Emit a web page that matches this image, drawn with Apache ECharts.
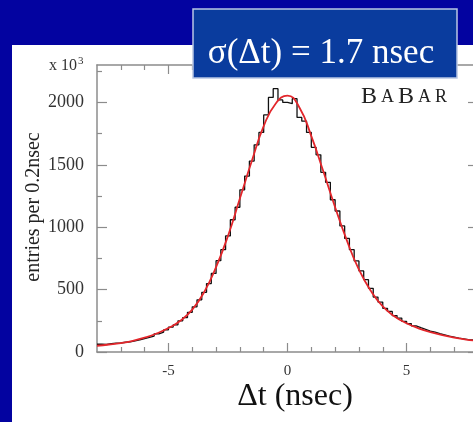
<!DOCTYPE html>
<html>
<head>
<meta charset="utf-8">
<script src="https://cdn.jsdelivr.net/npm/echarts@6.0.0/dist/echarts.min.js"></script>
<style>
  html, body { margin: 0; padding: 0; background: #0303a0; }
  #chart { width: 473px; height: 422px; }
</style>
</head>
<body>
<div id="chart"></div>
<script>
// histogram: 0.2 nsec bins from -8 to 8
const binStart = -8
const binWidth = 0.2
const counts = [
  62, 60, 66, 70, 72, 78, 82, 90, 98, 108,
  118, 128, 146, 160, 178, 200, 218, 250, 276, 318,
  362, 418, 478, 548, 630, 732, 820, 930, 1060, 1160,
  1300, 1410, 1530, 1660, 1760, 1900, 2040, 2110, 2020, 2000,
  1990, 2030, 1880, 1850, 1760, 1640, 1580, 1440, 1360, 1220,
  1130, 1010, 910, 820, 730, 650, 580, 510, 440, 400,
  350, 325, 292, 272, 246, 228, 210, 195, 182, 168,
  160, 148, 138, 128, 120, 112, 106, 100, 96, 90
]

// fitted curve (red)
const fitX = [-8, -7.5, -7, -6.5, -6, -5.5, -5, -4.5, -4, -3.5, -3, -2.5, -2, -1.5, -1, -0.5,
  0, 0.5, 1, 1.5, 2, 2.5, 3, 3.5, 4, 4.5, 5, 5.5, 6, 6.5, 7, 7.5, 8]
const fitY = [50, 60, 72, 90, 115, 148, 192, 250, 340, 480, 680, 930, 1230, 1530, 1810, 1990,
  2055, 1960, 1730, 1450, 1160, 890, 660, 490, 365, 285, 230, 190, 160, 135, 115, 100, 88]

const xMajor = [-5, 0, 5]
const xMinor = [-7, -6, -4, -3, -2, -1, 1, 2, 3, 4, 6, 7]
const yMajor = [0, 500, 1000, 1500, 2000]
const yMinor = [250, 750, 1250, 1750, 2250]

const serif = '"Liberation Serif", "DejaVu Serif", serif'
const axisColor = '#8c8c8c'

const histData = counts.map((v, i) => [binStart + i * binWidth, v])
histData.push([binStart + counts.length * binWidth, counts[counts.length - 1]])
const fitData = fitX.map((x, i) => [x, fitY[i]])

const gridBox = { left: 97, top: 65, width: 381, height: 287, outerBoundsMode: 'none', containLabel: false }

const xAxisOf = (gridIndex, position, ticks, len, labels) => ({
  type: 'value',
  gridIndex,
  position,
  min: -8,
  max: 8,
  axisLine: { show: gridIndex === 0, onZero: false, lineStyle: { color: axisColor, width: 1.5 } },
  axisTick: { inside: true, length: len, customValues: ticks, lineStyle: { color: axisColor, width: 1.2 } },
  axisLabel: labels
    ? { customValues: labels, formatter: (v) => String(v), color: '#333', fontFamily: serif, fontSize: 15, margin: 12 }
    : { show: false },
  splitLine: { show: false }
})

const yAxisOf = (gridIndex, position, ticks, len, labels) => ({
  type: 'value',
  gridIndex,
  position,
  min: 0,
  max: 2300,
  axisLine: { show: gridIndex === 0, onZero: false, lineStyle: { color: axisColor, width: 1.5 } },
  axisTick: { inside: true, length: len, customValues: ticks, lineStyle: { color: axisColor, width: 1.2 } },
  axisLabel: labels
    ? { customValues: labels, formatter: (v) => String(v), color: '#333', fontFamily: serif, fontSize: 18, margin: 13 }
    : { show: false },
  splitLine: { show: false }
})

const chart = echarts.init(document.getElementById('chart'))
chart.setOption({
  backgroundColor: '#0303a0',
  animation: false,
  grid: [Object.assign({}, gridBox), Object.assign({}, gridBox)],
  xAxis: [
    xAxisOf(0, 'bottom', xMinor, 5, xMajor),
    xAxisOf(0, 'top', xMinor, 5, null),
    xAxisOf(1, 'bottom', xMajor, 9, null),
    xAxisOf(1, 'top', xMajor, 9, null)
  ],
  yAxis: [
    yAxisOf(0, 'left', yMajor, 10, yMajor),
    yAxisOf(0, 'right', yMajor, 10, null),
    yAxisOf(1, 'left', yMinor, 5, null),
    yAxisOf(1, 'right', yMinor, 5, null)
  ],
  graphic: [
    {
      type: 'rect', z: -10, silent: true,
      shape: { x: 12, y: 45, width: 470, height: 380 },
      style: { fill: '#ffffff' }
    },
    {
      type: 'text', z: 10, x: 49, y: 76,
      style: {
        text: '{a|x 10}{b|3}',
        verticalAlign: 'bottom',
        rich: {
          a: { fontFamily: serif, fontSize: 16, fill: '#333' },
          b: { fontFamily: serif, fontSize: 11, fill: '#333', verticalAlign: 'top', padding: [0, 0, 9, 1] }
        }
      }
    },
    {
      type: 'text', z: 10, x: 34, y: 207, rotation: Math.PI / 2,
      style: {
        text: 'entries per 0.2nsec', align: 'center', verticalAlign: 'middle',
        fontFamily: serif, fontSize: 20, fill: '#222'
      }
    },
    {
      type: 'text', z: 10, x: 295, y: 397,
      style: {
        text: 'Δt (nsec)', align: 'center', verticalAlign: 'middle',
        fontFamily: serif, fontSize: 32, fill: '#111'
      }
    },
    {
      type: 'text', z: 10, x: 406, y: 97,
      style: {
        text: '{b|B}{s|A}{b|B}{s|A}{s|R}',
        align: 'center', verticalAlign: 'middle',
        rich: {
          b: { fontFamily: serif, fontSize: 24, fill: '#222', padding: [0, 4, 0, 0] },
          s: { fontFamily: serif, fontSize: 18, fill: '#222', padding: [0, 4, 0, 0] }
        }
      }
    },
    {
      type: 'rect', z: 20, silent: true,
      shape: { x: 193, y: 9, width: 264, height: 69 },
      style: { fill: '#0a3c9e', stroke: '#b9c6e4', lineWidth: 1.5 }
    },
    {
      type: 'text', z: 21, x: 321, y: 54,
      style: {
        text: 'σ(Δt) = 1.7 nsec', align: 'center', verticalAlign: 'middle',
        fontFamily: serif, fontSize: 35, fill: '#ffffff'
      }
    }
  ],
  series: [
    {
      name: 'data',
      type: 'line',
      xAxisIndex: 0,
      yAxisIndex: 0,
      step: 'end',
      showSymbol: false,
      data: histData,
      lineStyle: { color: '#111', width: 1.3 },
      z: 3
    },
    {
      name: 'fit',
      type: 'line',
      xAxisIndex: 0,
      yAxisIndex: 0,
      smooth: 0.5,
      showSymbol: false,
      data: fitData,
      lineStyle: { color: '#e3262b', width: 1.8 },
      z: 4
    }
  ]
})
</script>
</body>
</html>
